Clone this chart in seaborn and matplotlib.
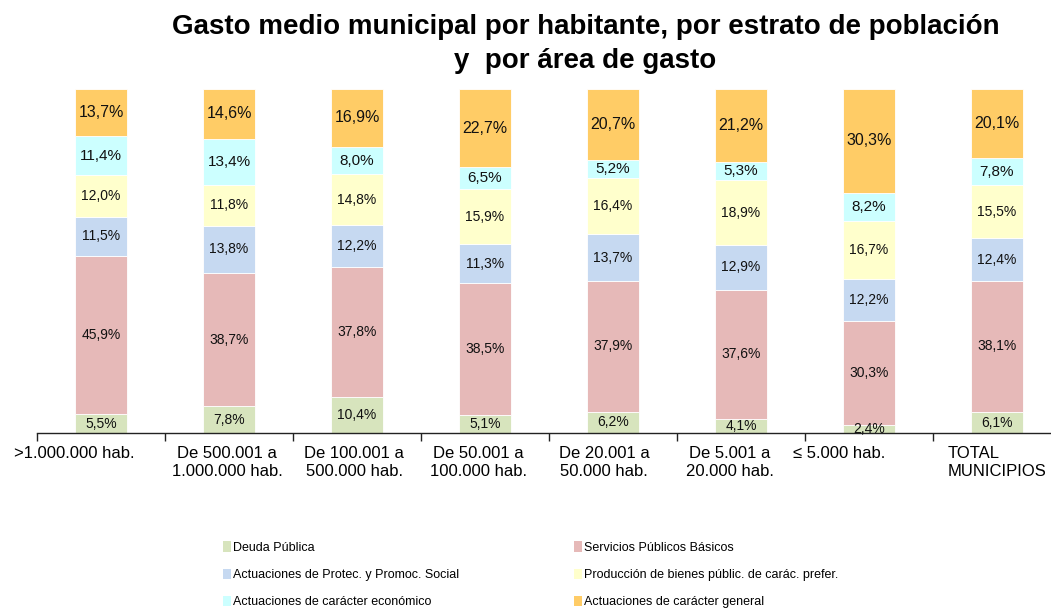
import numpy as np
import pandas as pd
import matplotlib
matplotlib.use("Agg")
import matplotlib.pyplot as plt
import matplotlib.transforms as mtrans
import seaborn as sns
from matplotlib.patches import Patch

categories = [">1.000.000 hab.", "De 500.001 a\n1.000.000 hab.", "De 100.001 a\n500.000 hab.",
              "De 50.001 a\n100.000 hab.", "De 20.001 a\n50.000 hab.", "De 5.001 a\n20.000 hab.",
              "≤ 5.000 hab.", "TOTAL\nMUNICIPIOS"]

series_names = ["Deuda Pública", "Servicios Públicos Básicos",
                "Actuaciones de Protec. y Promoc. Social",
                "Producción de bienes públic. de carác. prefer.",
                "Actuaciones de carácter económico", "Actuaciones de carácter general"]

deuda = [5.5, 7.8, 10.4, 5.1, 6.2, 4.1, 2.4, 6.1]
servicios = [45.9, 38.7, 37.8, 38.5, 37.9, 37.6, 30.3, 38.1]
protec = [11.5, 13.8, 12.2, 11.3, 13.7, 12.9, 12.2, 12.4]
produccion = [12.0, 11.8, 14.8, 15.9, 16.4, 18.9, 16.7, 15.5]
economico = [11.4, 13.4, 8.0, 6.5, 5.2, 5.3, 8.2, 7.8]
general = [13.7, 14.6, 16.9, 22.7, 20.7, 21.2, 30.3, 20.1]

colors = ["#D7E4BD", "#E6B9B8", "#C6D9F1", "#FFFFCC", "#CCFFFF", "#FFCC66"]

sns.set_theme(style="white")
plt.rcParams['font.family'] = ['Liberation Sans', 'DejaVu Sans']
plt.rcParams['text.color'] = 'black'

fig = plt.figure(figsize=(10.51, 6.10), dpi=100)
ax = fig.add_axes([37 / 1051, 1 - 433 / 610, 1024 / 1051, 344 / 610])

all_series = [deuda, servicios, protec, produccion, economico, general]
label_sizes = [10, 10, 10, 10, 11, 11.5]
bottom = np.zeros(len(categories))
for name, vals, col, fs in zip(series_names, all_series, colors, label_sizes):
    df = pd.DataFrame({"cat": categories, "val": vals})
    sns.barplot(data=df, x="cat", y="val", color=col, bottom=bottom, width=0.41,
                ax=ax, saturation=1, edgecolor="white", linewidth=0.6, errorbar=None)
    for i, v in enumerate(vals):
        ax.text(i, bottom[i] + v / 2, f"{v:.1f}%".replace(".", ","), ha="center",
                va="center", fontsize=fs, color="#111111")
    bottom = bottom + np.array(vals)

ax.set_xlim(-0.5, 7.5)
ax.set_ylim(0, 100)
ax.set_xlabel("")
ax.set_ylabel("")
ax.set_yticks([])
for s in ["top", "right", "left"]:
    ax.spines[s].set_visible(False)
ax.spines["bottom"].set_color("#222222")
ax.spines["bottom"].set_linewidth(1.0)
ax.set_xticks(np.arange(-0.5, 8, 1), minor=False)
ax.set_xticklabels([])
ax.set_xticks(np.arange(8), minor=True)
ax.set_xticklabels(categories, minor=True, fontsize=12, color="black", linespacing=1.3)
ax.tick_params(axis="x", which="major", length=6, width=1, color="#222222", direction="out", bottom=True)
ax.tick_params(axis="x", which="minor", length=0, pad=9)

# small horizontal offsets of tick labels as in the reference
offsets = [-27, -2, -3, -7, -9, -11, -30, 0]
for lab, dx in zip(ax.get_xticklabels(minor=True), offsets):
    lab.set_transform(lab.get_transform() + mtrans.ScaledTranslation(dx / 100, 0, fig.dpi_scale_trans))
    if lab.get_text().startswith("TOTAL"):
        lab.set_multialignment("left")

fig.text(0.557, 0.955, "Gasto medio municipal por habitante, por estrato de población",
         ha="center", va="center", fontsize=20, fontweight="bold", color="black")
fig.text(0.557, 0.90, "y  por área de gasto", ha="center", va="center",
         fontsize=20, fontweight="bold", color="black")

handles = [Patch(facecolor=c, edgecolor="none") for c in colors]
order = [0, 2, 4, 1, 3, 5]
leg = fig.legend([handles[i] for i in order], [series_names[i] for i in order],
                 ncol=2, loc="upper left", bbox_to_anchor=(212 / 1051, 1 - 530 / 610),
                 frameon=False, fontsize=9, handlelength=0.6, handleheight=0.9,
                 handletextpad=0.2, labelspacing=1.18, columnspacing=9.2)

fig.savefig("out.png", dpi=100)
